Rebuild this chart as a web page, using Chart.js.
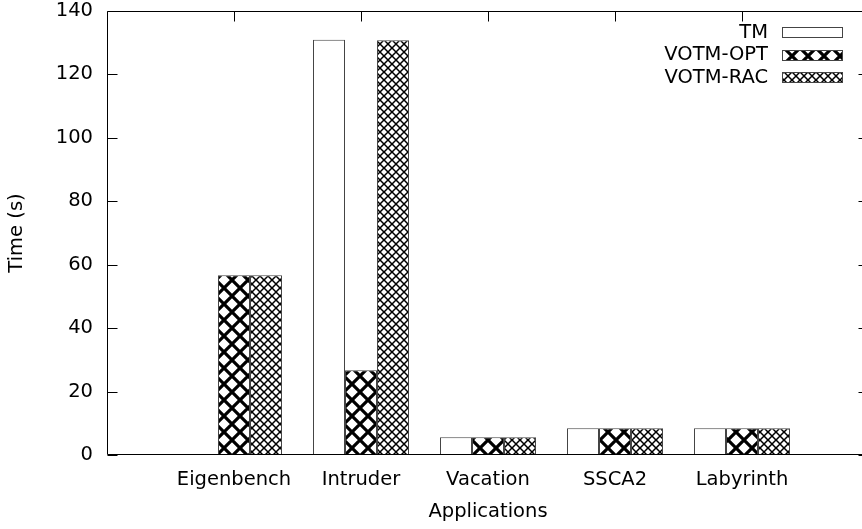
<!DOCTYPE html>
<html lang="en">
<head>
  <meta charset="UTF-8" />
  <title>VOTM timing</title>
  <script src="https://cdn.jsdelivr.net/npm/chart.js"></script>
  <style>
    html, body {
      margin: 0;
      padding: 0;
      background: #fff;
      overflow: hidden;
    }
    #wrap {
      width: 872px;
      height: 529px;
    }
  </style>
</head>
<body>
  <div id="wrap">
    <canvas id="chart" width="872" height="529"></canvas>
  </div>

  <script>
    // data
    const categories = ['Eigenbench', 'Intruder', 'Vacation', 'SSCA2', 'Labyrinth'];
    const tmTimes = [0, 130.9, 5.6, 8.4, 8.4];
    const votmOptTimes = [56.7, 26.7, 5.6, 8.4, 8.4];
    const votmRacTimes = [56.7, 130.8, 5.6, 8.4, 8.4];
    const yTicks = [0, 20, 40, 60, 80, 100, 120, 140];

    const FONT = "'DejaVu Sans', sans-serif";
    const FSIZE = 19.5;

    // crosshatch fills like gnuplot's fillstyle pattern
    function hatch(size, width) {
      const c = document.createElement('canvas');
      c.width = size;
      c.height = size;
      const g = c.getContext('2d');
      g.fillStyle = '#fff';
      g.fillRect(0, 0, size, size);
      g.strokeStyle = '#000';
      g.lineWidth = width;
      for (let o = -size; o <= size; o += size) {
        g.beginPath();
        g.moveTo(o, 0);
        g.lineTo(o + size, size);
        g.moveTo(o + size, 0);
        g.lineTo(o, size);
        g.stroke();
      }
      return g.createPattern(c, 'repeat');
    }

    const ctx = document.getElementById('chart').getContext('2d');
    const fills = ['#ffffff', hatch(16, 3.2), hatch(8, 1.5)];

    // pad with empty slots so the x range runs from -1 to 5 like the original
    const pad = arr => [null, ...arr, null];

    const frame = {
      id: 'frame',
      afterDatasetsDraw(chart) {
        const { ctx, chartArea: a, scales } = chart;
        const L = Math.round(a.left) + 0.5, R = Math.round(a.right) - 0.5;
        const T = Math.round(a.top) + 0.5, B = Math.round(a.bottom) - 0.5;
        ctx.save();
        ctx.strokeStyle = '#000';
        ctx.lineWidth = 1;
        ctx.beginPath();
        ctx.rect(L, T, R - L, B - T);
        yTicks.forEach(v => {
          const y = Math.round(scales.y.getPixelForValue(v)) + 0.5;
          ctx.moveTo(L, y); ctx.lineTo(L + 10, y);
          ctx.moveTo(R, y); ctx.lineTo(R - 10, y);
        });
        categories.forEach((_, i) => {
          const x = Math.round(scales.x.getPixelForValue(i + 1)) + 0.5;
          ctx.moveTo(x, T); ctx.lineTo(x, T + 10);
        });
        ctx.stroke();

        // legend, text on the left of the sample box
        ctx.font = FSIZE + 'px ' + FONT;
        ctx.fillStyle = '#000';
        ctx.textAlign = 'right';
        ctx.textBaseline = 'middle';
        chart.data.datasets.forEach((ds, i) => {
          const cy = 32.5 + i * 22.5;
          ctx.fillText(ds.label, 768, cy);
          ctx.fillStyle = ds.backgroundColor;
          ctx.fillRect(782, Math.round(cy - 5.5), 61, 11);
          ctx.strokeStyle = '#444';
          ctx.strokeRect(782.5, Math.round(cy - 5.5) + 0.5, 60, 10);
          ctx.fillStyle = '#000';
        });
        ctx.restore();
      }
    };

    const mk = (label, data, i) => ({
      label,
      data: pad(data),
      backgroundColor: fills[i],
      borderColor: '#444',
      borderWidth: 1,
      barPercentage: 1,
      categoryPercentage: 0.756
    });

    new Chart(ctx, {
      type: 'bar',
      data: {
        labels: ['', ...categories, ''],
        datasets: [
          mk('TM', tmTimes, 0),
          mk('VOTM-OPT', votmOptTimes, 1),
          mk('VOTM-RAC', votmRacTimes, 2)
        ]
      },
      options: {
        responsive: false,
        animation: false,
        devicePixelRatio: 1,
        layout: { padding: { top: 11, right: 3, left: 0, bottom: 0 } },
        plugins: {
          legend: { display: false },
          tooltip: { enabled: false }
        },
        scales: {
          x: {
            offset: false,
            grid: { display: false, drawTicks: false },
            border: { display: false },
            ticks: {
              color: '#000',
              font: { family: FONT, size: FSIZE },
              padding: 13,
              maxRotation: 0,
              autoSkip: false
            },
            title: {
              display: true,
              text: 'Applications',
              color: '#000',
              font: { family: FONT, size: FSIZE },
              padding: { top: 0, bottom: 5 }
            },
            afterFit(s) {
              s.height = 74;
              s.paddingLeft = 0;
              s.paddingRight = 0;
            }
          },
          y: {
            min: 0,
            max: 140,
            grid: { display: false, drawTicks: false },
            border: { display: false },
            ticks: {
              stepSize: 20,
              color: '#000',
              font: { family: FONT, size: FSIZE },
              padding: 14
            },
            title: {
              display: true,
              text: 'Time (s)',
              color: '#000',
              font: { family: FONT, size: FSIZE },
              padding: { top: 5, bottom: 0 }
            },
            afterFit(s) {
              s.width = 107;
              s.paddingTop = 0;
              s.paddingBottom = 0;
            }
          }
        }
      },
      plugins: [frame]
    });
  </script>
</body>
</html>
